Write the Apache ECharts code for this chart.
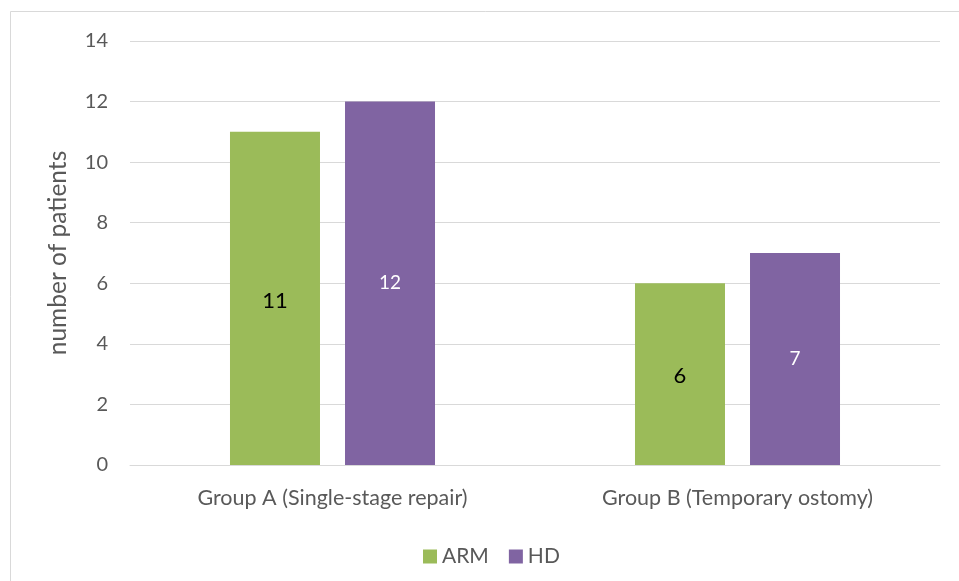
<!DOCTYPE html>
<html>
<head>
<meta charset="utf-8">
<script src="https://cdn.jsdelivr.net/npm/echarts@6/dist/echarts.min.js"></script>
<style>
  html, body { margin: 0; padding: 0; background: #fff; }
  #chart { width: 959px; height: 581px; }
</style>
</head>
<body>
<div id="chart"></div>
<script>
// Patient counts per repair strategy
const categories = ['Group A (Single-stage repair)', 'Group B (Temporary ostomy)'];
const armValues = [11, 6];
const hdValues = [12, 7];
const yTicks = { min: 0, max: 14, interval: 2 };

const FONT = 'Lato, "Open Sans", sans-serif';
const TEXT = '#595959';

const chart = echarts.init(document.getElementById('chart'), null, { renderer: 'canvas' });

chart.setOption({
  backgroundColor: '#fff',
  textStyle: { fontFamily: FONT },
  graphic: [{
    type: 'rect',
    shape: { x: 10.5, y: 11.5, width: 980, height: 600 },
    style: { fill: 'none', stroke: '#d9d9d9', lineWidth: 1 },
    silent: true
  }],
  grid: { left: 130, right: 19, top: 41, bottom: 116 },
  legend: {
    top: 541,
    left: 418,
    itemWidth: 14,
    itemHeight: 14,
    itemGap: 20,
    icon: 'rect',
    textStyle: { color: TEXT, fontSize: 21, fontFamily: FONT },
    data: ['ARM', 'HD']
  },
  xAxis: {
    type: 'category',
    data: categories,
    axisLine: { lineStyle: { color: '#d9d9d9', width: 1 } },
    axisTick: { show: false },
    axisLabel: { color: TEXT, fontSize: 21.5, margin: 22, fontFamily: FONT }
  },
  yAxis: {
    type: 'value',
    min: yTicks.min,
    max: yTicks.max,
    interval: yTicks.interval,
    name: 'number of patients',
    nameLocation: 'middle',
    nameGap: 59,
    nameTextStyle: { color: TEXT, fontSize: 24.5, fontFamily: FONT },
    axisLine: { show: false },
    axisTick: { show: false },
    axisLabel: { color: TEXT, fontSize: 20, margin: 22, fontFamily: FONT },
    splitLine: { lineStyle: { color: '#d9d9d9', width: 1 } }
  },
  series: [
    {
      name: 'ARM',
      type: 'bar',
      data: armValues,
      barWidth: 90,
      barGap: '27.8%',
      itemStyle: { color: '#9BBB59' },
      label: { show: true, position: 'inside', color: '#000', fontSize: 22, fontFamily: FONT, offset: [0, 2] }
    },
    {
      name: 'HD',
      type: 'bar',
      data: hdValues,
      barWidth: 90,
      itemStyle: { color: '#8064A2' },
      label: { show: true, position: 'inside', color: '#fff', fontSize: 19, fontFamily: FONT }
    }
  ]
});
</script>
</body>
</html>
